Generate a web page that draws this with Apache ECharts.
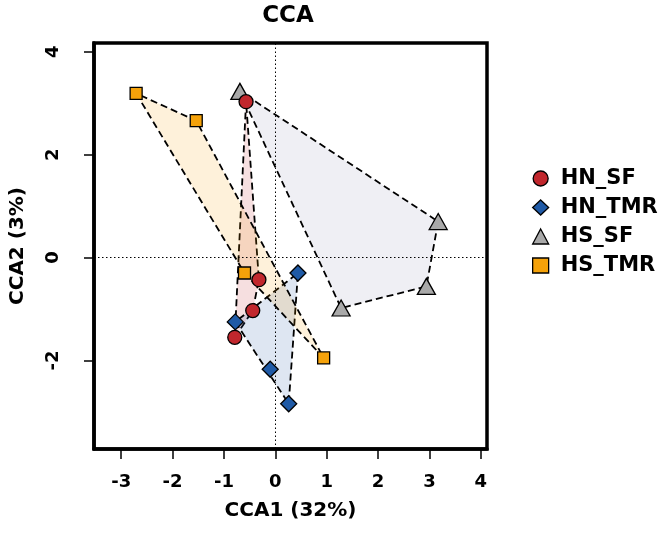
<!DOCTYPE html>
<html>
<head>
<meta charset="utf-8">
<script src="https://cdn.jsdelivr.net/npm/echarts@6/dist/echarts.min.js"></script>
<style>html,body{margin:0;padding:0;background:#fff}#c{width:666px;height:540px}</style>
</head>
<body>
<div id="c"></div>
<script>
// ---- data ----
var groups = ['HN_SF', 'HN_TMR', 'HS_SF', 'HS_TMR'];
var HN_SF_x = [-0.57, -0.32, -0.44, -0.79];
var HN_SF_y = [3.03, -0.43, -1.03, -1.55];
var HN_TMR_x = [0.44, -0.78, -0.10, 0.26];
var HN_TMR_y = [-0.30, -1.25, -2.17, -2.84];
var HS_SF_x = [-0.69, 3.17, 2.94, 1.28];
var HS_SF_y = [3.23, 0.70, -0.56, -0.98];
var HS_TMR_x = [-2.71, -1.54, 0.94, -0.60];
var HS_TMR_y = [3.19, 2.66, -1.95, -0.30];
var xTicks = [-3, -2, -1, 0, 1, 2, 3, 4];
var yTicks = [-2, 0, 2, 4];

// ---- styles ----
var FONT = '"DejaVu Sans", "Liberation Sans", sans-serif';
var xs = [HN_SF_x, HN_TMR_x, HS_SF_x, HS_TMR_x];
var ys = [HN_SF_y, HN_TMR_y, HS_SF_y, HS_TMR_y];
var colors = ['#c1272d', '#1f5aa6', '#a9a9a9', '#f5a20a'];
var fills = ['rgba(193,39,45,0.15)', 'rgba(31,90,166,0.15)', 'rgba(160,160,190,0.17)', 'rgba(245,162,10,0.15)'];
var symbols = ['circle', 'diamond', 'triangle', 'rect'];
var sizes = [14, 16, [18, 16], 12];
var zs = [6, 5, 4, 3];

function pts(i) {
  return xs[i].map(function (x, k) { return [x, ys[i][k]]; });
}
function hull(p) {
  var a = p.slice().sort(function (u, v) { return u[0] - v[0] || u[1] - v[1]; });
  function cross(o, a1, b) { return (a1[0] - o[0]) * (b[1] - o[1]) - (a1[1] - o[1]) * (b[0] - o[0]); }
  var lower = [], upper = [];
  a.forEach(function (q) { while (lower.length >= 2 && cross(lower[lower.length - 2], lower[lower.length - 1], q) <= 0) lower.pop(); lower.push(q); });
  a.slice().reverse().forEach(function (q) { while (upper.length >= 2 && cross(upper[upper.length - 2], upper[upper.length - 1], q) <= 0) upper.pop(); upper.push(q); });
  upper.pop(); lower.pop();
  return lower.concat(upper);
}

var series = [];
groups.forEach(function (g, i) {
  var h = hull(pts(i));
  series.push({
    type: 'custom', name: g + '_hull', silent: true, z: 1,
    data: [0],
    renderItem: function (params, api) {
      return {
        type: 'polygon',
        shape: { points: h.map(function (q) { return api.coord(q); }) },
        style: { fill: fills[i], stroke: '#000', lineWidth: 1.8, lineDash: [7, 4] }
      };
    }
  });
});
groups.forEach(function (g, i) {
  series.push({
    type: 'scatter', name: g, z: zs[i],
    symbol: symbols[i], symbolSize: sizes[i],
    itemStyle: { color: colors[i], borderColor: '#000', borderWidth: 1.3, opacity: 1 },
    data: pts(i)
  });
});
series.push({
  type: 'line', data: [], silent: true,
  markLine: {
    silent: true, symbol: ['none', 'none'], label: { show: false },
    lineStyle: { color: '#000', width: 1, type: [1.5, 2.5] },
    data: [{ xAxis: 0 }, { yAxis: 0 }]
  },
  z: 0
});

var chart = echarts.init(document.getElementById('c'), null, { renderer: 'canvas' });
chart.setOption({
  animation: false,
  backgroundColor: '#fff',
  title: {
    text: 'CCA', left: 283, top: 0, textAlign: 'center',
    textStyle: { fontFamily: FONT, fontSize: 23, fontWeight: 'bold', color: '#000' }
  },
  legend: {
    orient: 'vertical', left: 527, top: 163, itemWidth: 16, itemHeight: 15, itemGap: 8,
    data: groups.map(function (g, i) { return { name: g, icon: symbols[i] }; }),
    textStyle: { fontFamily: FONT, fontSize: 21, fontWeight: 'bold', color: '#000', padding: [0, 0, 0, 7] },
    itemStyle: { borderColor: '#000', borderWidth: 1.3 }
  },
  grid: { left: 90, right: 179, top: 43, bottom: 91, show: true, borderColor: '#000', borderWidth: 3.5, containLabel: false },
  xAxis: {
    type: 'value', min: -3.53, max: 4.12,
    name: 'CCA1 (32%)', nameLocation: 'middle', nameGap: 52,
    nameTextStyle: { fontFamily: FONT, fontSize: 20, fontWeight: 'bold', color: '#000' },
    axisLine: { show: true, onZero: false, lineStyle: { color: '#000', width: 3.5 } },
    axisTick: { show: true, length: 10, lineStyle: { color: '#000', width: 1.5 }, customValues: xTicks },
    axisLabel: { margin: 24, fontFamily: FONT, fontSize: 18, fontWeight: 'bold', color: '#000', customValues: xTicks },
    splitLine: { show: false }
  },
  yAxis: {
    type: 'value', min: -3.72, max: 4.17,
    name: 'CCA2 (3%)', nameLocation: 'middle', nameGap: 66,
    nameTextStyle: { fontFamily: FONT, fontSize: 20, fontWeight: 'bold', color: '#000' },
    axisLine: { show: true, onZero: false, lineStyle: { color: '#000', width: 3.5 } },
    axisTick: { show: true, length: 10, lineStyle: { color: '#000', width: 1.5 }, customValues: yTicks },
    axisLabel: { margin: 32, rotate: 90, fontFamily: FONT, fontSize: 18, fontWeight: 'bold', color: '#000', customValues: yTicks },
    splitLine: { show: false }
  },
  series: series
});
</script>
</body>
</html>
